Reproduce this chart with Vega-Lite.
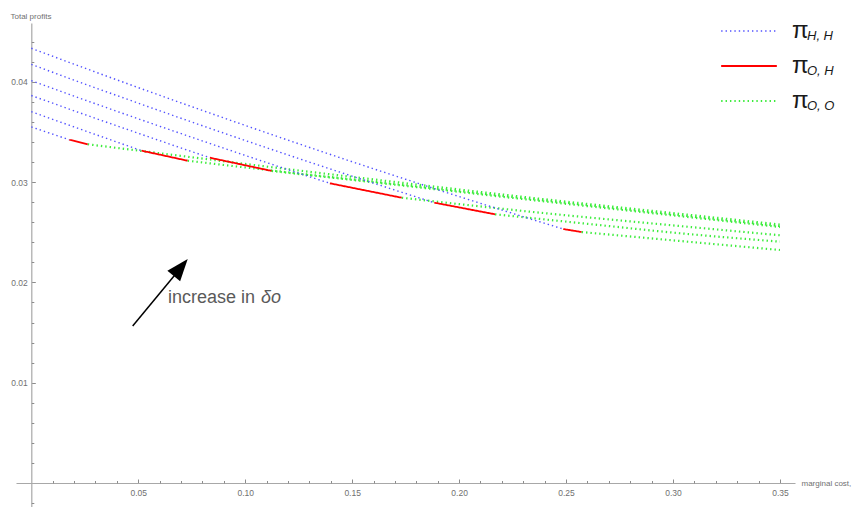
{
  "$schema": "https://vega.github.io/schema/vega-lite/v6.json",
  "autosize": "none",
  "width": 779,
  "height": 484,
  "padding": {"left": 16, "top": 23, "right": 58, "bottom": 0},
  "background": "white",
  "config": {
    "view": {"stroke": null},
    "font": "Liberation Sans",
    "axis": {"labelFont": "Liberation Sans", "titleFont": "Liberation Sans"},
    "legend": {"labelFont": "Liberation Sans"}
  },
  "resolve": {"axis": {"x": "independent", "y": "independent"}},
  "layer": [
    {
      "data": {
        "values": [
          {"curve": 1, "regime": "HH", "sub": "H, H", "x": 0, "y": 0.0355},
          {"curve": 1, "regime": "HH", "sub": "H, H", "x": 0.01, "y": 0.03478},
          {"curve": 1, "regime": "HH", "sub": "H, H", "x": 0.0178, "y": 0.03422},
          {"curve": 1, "regime": "OH", "sub": "O, H", "x": 0.0178, "y": 0.03422},
          {"curve": 1, "regime": "OH", "sub": "O, H", "x": 0.0264, "y": 0.03377},
          {"curve": 1, "regime": "OO", "sub": "O, O", "x": 0.0264, "y": 0.03377},
          {"curve": 1, "regime": "OO", "sub": "O, O", "x": 0.07, "y": 0.03261},
          {"curve": 1, "regime": "OO", "sub": "O, O", "x": 0.1164, "y": 0.03138},
          {"curve": 1, "regime": "OO", "sub": "O, O", "x": 0.175, "y": 0.02989},
          {"curve": 1, "regime": "OO", "sub": "O, O", "x": 0.2378, "y": 0.02834},
          {"curve": 1, "regime": "OO", "sub": "O, O", "x": 0.29, "y": 0.02714},
          {"curve": 1, "regime": "OO", "sub": "O, O", "x": 0.35, "y": 0.02577},

          {"curve": 2, "regime": "HH", "sub": "H, H", "x": 0, "y": 0.03702},
          {"curve": 2, "regime": "HH", "sub": "H, H", "x": 0.025, "y": 0.03512},
          {"curve": 2, "regime": "HH", "sub": "H, H", "x": 0.0516, "y": 0.03313},
          {"curve": 2, "regime": "OH", "sub": "O, H", "x": 0.0516, "y": 0.03313},
          {"curve": 2, "regime": "OH", "sub": "O, H", "x": 0.0731, "y": 0.03213},
          {"curve": 2, "regime": "OO", "sub": "O, O", "x": 0.0731, "y": 0.03213},
          {"curve": 2, "regime": "OO", "sub": "O, O", "x": 0.1164, "y": 0.03106},
          {"curve": 2, "regime": "OO", "sub": "O, O", "x": 0.175, "y": 0.02969},
          {"curve": 2, "regime": "OO", "sub": "O, O", "x": 0.2378, "y": 0.02822},
          {"curve": 2, "regime": "OO", "sub": "O, O", "x": 0.29, "y": 0.02701},
          {"curve": 2, "regime": "OO", "sub": "O, O", "x": 0.35, "y": 0.02562},

          {"curve": 3, "regime": "HH", "sub": "H, H", "x": 0, "y": 0.03863},
          {"curve": 3, "regime": "HH", "sub": "H, H", "x": 0.025, "y": 0.03673},
          {"curve": 3, "regime": "HH", "sub": "H, H", "x": 0.05, "y": 0.03487},
          {"curve": 3, "regime": "HH", "sub": "H, H", "x": 0.075, "y": 0.03304},
          {"curve": 3, "regime": "HH", "sub": "H, H", "x": 0.0835, "y": 0.03243},
          {"curve": 3, "regime": "OH", "sub": "O, H", "x": 0.0835, "y": 0.03243},
          {"curve": 3, "regime": "OH", "sub": "O, H", "x": 0.1124, "y": 0.03111},
          {"curve": 3, "regime": "OO", "sub": "O, O", "x": 0.1124, "y": 0.03111},
          {"curve": 3, "regime": "OO", "sub": "O, O", "x": 0.175, "y": 0.02962},
          {"curve": 3, "regime": "OO", "sub": "O, O", "x": 0.2378, "y": 0.02812},
          {"curve": 3, "regime": "OO", "sub": "O, O", "x": 0.29, "y": 0.02691},
          {"curve": 3, "regime": "OO", "sub": "O, O", "x": 0.35, "y": 0.02552},

          {"curve": 4, "regime": "HH", "sub": "H, H", "x": 0, "y": 0.04011},
          {"curve": 4, "regime": "HH", "sub": "H, H", "x": 0.025, "y": 0.03819},
          {"curve": 4, "regime": "HH", "sub": "H, H", "x": 0.05, "y": 0.03631},
          {"curve": 4, "regime": "HH", "sub": "H, H", "x": 0.075, "y": 0.03447},
          {"curve": 4, "regime": "HH", "sub": "H, H", "x": 0.1, "y": 0.03266},
          {"curve": 4, "regime": "HH", "sub": "H, H", "x": 0.125, "y": 0.03089},
          {"curve": 4, "regime": "HH", "sub": "H, H", "x": 0.1396, "y": 0.02988},
          {"curve": 4, "regime": "OH", "sub": "O, H", "x": 0.1396, "y": 0.02988},
          {"curve": 4, "regime": "OH", "sub": "O, H", "x": 0.1732, "y": 0.02844},
          {"curve": 4, "regime": "OO", "sub": "O, O", "x": 0.1732, "y": 0.02844},
          {"curve": 4, "regime": "OO", "sub": "O, O", "x": 0.2332, "y": 0.02705},
          {"curve": 4, "regime": "OO", "sub": "O, O", "x": 0.3032, "y": 0.02562},
          {"curve": 4, "regime": "OO", "sub": "O, O", "x": 0.35, "y": 0.0247},

          {"curve": 5, "regime": "HH", "sub": "H, H", "x": 0, "y": 0.04173},
          {"curve": 5, "regime": "HH", "sub": "H, H", "x": 0.025, "y": 0.03978},
          {"curve": 5, "regime": "HH", "sub": "H, H", "x": 0.05, "y": 0.03787},
          {"curve": 5, "regime": "HH", "sub": "H, H", "x": 0.075, "y": 0.03599},
          {"curve": 5, "regime": "HH", "sub": "H, H", "x": 0.1, "y": 0.03415},
          {"curve": 5, "regime": "HH", "sub": "H, H", "x": 0.125, "y": 0.03235},
          {"curve": 5, "regime": "HH", "sub": "H, H", "x": 0.15, "y": 0.03059},
          {"curve": 5, "regime": "HH", "sub": "H, H", "x": 0.175, "y": 0.02886},
          {"curve": 5, "regime": "HH", "sub": "H, H", "x": 0.1884, "y": 0.02795},
          {"curve": 5, "regime": "OH", "sub": "O, H", "x": 0.1884, "y": 0.02795},
          {"curve": 5, "regime": "OH", "sub": "O, H", "x": 0.2168, "y": 0.02679},
          {"curve": 5, "regime": "OO", "sub": "O, O", "x": 0.2168, "y": 0.02679},
          {"curve": 5, "regime": "OO", "sub": "O, O", "x": 0.26, "y": 0.02584},
          {"curve": 5, "regime": "OO", "sub": "O, O", "x": 0.3032, "y": 0.0249},
          {"curve": 5, "regime": "OO", "sub": "O, O", "x": 0.35, "y": 0.02406},

          {"curve": 6, "regime": "HH", "sub": "H, H", "x": 0, "y": 0.04334},
          {"curve": 6, "regime": "HH", "sub": "H, H", "x": 0.025, "y": 0.04136},
          {"curve": 6, "regime": "HH", "sub": "H, H", "x": 0.05, "y": 0.03942},
          {"curve": 6, "regime": "HH", "sub": "H, H", "x": 0.075, "y": 0.03752},
          {"curve": 6, "regime": "HH", "sub": "H, H", "x": 0.1, "y": 0.03565},
          {"curve": 6, "regime": "HH", "sub": "H, H", "x": 0.125, "y": 0.03382},
          {"curve": 6, "regime": "HH", "sub": "H, H", "x": 0.15, "y": 0.03203},
          {"curve": 6, "regime": "HH", "sub": "H, H", "x": 0.175, "y": 0.03028},
          {"curve": 6, "regime": "HH", "sub": "H, H", "x": 0.2, "y": 0.02856},
          {"curve": 6, "regime": "HH", "sub": "H, H", "x": 0.225, "y": 0.02688},
          {"curve": 6, "regime": "HH", "sub": "H, H", "x": 0.2487, "y": 0.02532},
          {"curve": 6, "regime": "OH", "sub": "O, H", "x": 0.2487, "y": 0.02532},
          {"curve": 6, "regime": "OH", "sub": "O, H", "x": 0.2573, "y": 0.02502},
          {"curve": 6, "regime": "OO", "sub": "O, O", "x": 0.2573, "y": 0.02502},
          {"curve": 6, "regime": "OO", "sub": "O, O", "x": 0.3032, "y": 0.02413},
          {"curve": 6, "regime": "OO", "sub": "O, O", "x": 0.35, "y": 0.02323}
        ]
      },
      "mark": {"type": "line", "strokeCap": "butt", "interpolate": "monotone"},
      "encoding": {
        "x": {
          "field": "x", "type": "quantitative",
          "scale": {"domain": [-0.00715, 0.35704], "nice": false, "zero": false},
          "axis": {
            "orient": "bottom", "offset": -24,
            "values": [0.05, 0.1, 0.15, 0.2, 0.25, 0.3, 0.35], "format": ".2f",
            "grid": false, "domainColor": "#a8a8a8", "domainWidth": 1.2,
            "tickSize": -4, "tickColor": "#8c8c8c", "tickWidth": 1,
            "labelPadding": 9, "labelFontSize": 8.5, "labelColor": "#707070",
            "labelFlush": false, "labelOverlap": false,
            "title": "marginal cost,", "titleX": 785, "titleY": 0,
            "titleAlign": "left", "titleBaseline": "middle", "titleAngle": 0,
            "titleFontSize": 8, "titleFontWeight": "normal", "titleColor": "#707070"
          }
        },
        "y": {
          "field": "y", "type": "quantitative",
          "scale": {"domain": [-0.00239, 0.04586], "nice": false, "zero": false},
          "axis": {
            "orient": "left", "offset": -15.3,
            "values": [0.01, 0.02, 0.03, 0.04], "format": ".2f",
            "grid": false, "domainColor": "#a8a8a8", "domainWidth": 1.2,
            "tickSize": -4, "tickColor": "#8c8c8c", "tickWidth": 1,
            "labelPadding": 8, "labelFontSize": 8.5, "labelColor": "#707070",
            "labelFlush": false, "labelOverlap": false,
            "title": "Total profits", "titleX": -21.3, "titleY": -7,
            "titleAlign": "left", "titleBaseline": "middle", "titleAngle": 0,
            "titleFontSize": 8, "titleFontWeight": "normal", "titleColor": "#707070"
          }
        },
        "color": {
          "field": "regime", "type": "nominal",
          "scale": {"domain": ["HH", "OH", "OO"], "range": ["#5252ff", "#ff0000", "#3cec3c"]},
          "legend": {
            "orient": "none", "legendX": 704, "legendY": -9.25, "title": null,
            "symbolType": "stroke", "symbolSize": 3100, "clipHeight": 34.5,
            "rowPadding": 0, "padding": 0, "labelOffset": 14,
            "labelFontSize": 24, "labelColor": "#1a1a1a", "labelExpr": "'π'", "labelLimit": 0
          }
        },
        "strokeDash": {
          "field": "regime", "type": "nominal",
          "scale": {"domain": ["HH", "OH", "OO"], "range": [[1.4, 3], [1, 0], [1.4, 3]]},
          "legend": {
            "orient": "none", "legendX": 704, "legendY": -9.25, "title": null,
            "symbolType": "stroke", "symbolSize": 3100, "clipHeight": 34.5,
            "rowPadding": 0, "padding": 0, "labelOffset": 14,
            "labelFontSize": 24, "labelColor": "#1a1a1a", "labelExpr": "'π'", "labelLimit": 0
          }
        },
        "strokeWidth": {
          "field": "regime", "type": "nominal",
          "scale": {"domain": ["HH", "OH", "OO"], "range": [1.4, 2.2, 1.4]},
          "legend": {
            "orient": "none", "legendX": 704, "legendY": -9.25, "title": null,
            "symbolType": "stroke", "symbolSize": 3100, "clipHeight": 34.5,
            "rowPadding": 0, "padding": 0, "labelOffset": 14,
            "labelFontSize": 24, "labelColor": "#1a1a1a", "labelExpr": "'π'", "labelLimit": 0
          }
        },
        "opacity": {
          "field": "sub", "type": "ordinal",
          "scale": {"domain": ["H, H", "O, H", "O, O"], "range": [1, 1, 1]},
          "legend": {
            "orient": "none", "legendX": 778, "legendY": -4, "title": null,
            "symbolSize": 0, "symbolOpacity": 0, "symbolStrokeWidth": 0,
            "clipHeight": 34.5, "rowPadding": 0, "padding": 0, "labelOffset": 0,
            "labelFontSize": 13, "labelFontStyle": "italic", "labelColor": "#1a1a1a", "labelLimit": 0
          }
        },
        "detail": {"field": "curve", "type": "nominal"}
      }
    },
    {
      "data": {"values": [{}]},
      "mark": {"type": "rule", "color": "black", "strokeWidth": 1.5},
      "encoding": {
        "x": {
          "datum": 0.0474, "type": "quantitative",
          "scale": {"domain": [-0.00715, 0.35704], "nice": false, "zero": false},
          "axis": {
            "orient": "bottom", "offset": -24,
            "values": [0.01, 0.02, 0.03, 0.04, 0.06, 0.07, 0.08, 0.09, 0.11, 0.12, 0.13, 0.14, 0.16, 0.17, 0.18, 0.19, 0.21, 0.22, 0.23, 0.24, 0.26, 0.27, 0.28, 0.29, 0.31, 0.32, 0.33, 0.34],
            "labels": false, "domain": false, "grid": false, "title": null,
            "tickSize": -2.5, "tickColor": "#8c8c8c", "tickWidth": 1
          }
        },
        "y": {
          "datum": 0.01565, "type": "quantitative",
          "scale": {"domain": [-0.00239, 0.04586], "nice": false, "zero": false},
          "axis": {
            "orient": "left", "offset": -15.3,
            "values": [-0.002, 0.002, 0.004, 0.006, 0.008, 0.012, 0.014, 0.016, 0.018, 0.022, 0.024, 0.026, 0.028, 0.032, 0.034, 0.036, 0.038, 0.042, 0.044],
            "labels": false, "domain": false, "grid": false, "title": null,
            "tickSize": -2.5, "tickColor": "#8c8c8c", "tickWidth": 1
          }
        },
        "x2": {"datum": 0.0677},
        "y2": {"datum": 0.02089}
      }
    },
    {
      "data": {"values": [{}]},
      "mark": {"type": "point", "shape": "M0,-1L0.6,0.6L-0.6,0.6Z", "size": 756, "angle": 39.4, "filled": true, "color": "black", "opacity": 1, "strokeWidth": 0},
      "encoding": {
        "x": {"datum": 0.06905, "type": "quantitative", "scale": {"domain": [-0.00715, 0.35704], "nice": false, "zero": false}, "axis": null},
        "y": {"datum": 0.02128, "type": "quantitative", "scale": {"domain": [-0.00239, 0.04586], "nice": false, "zero": false}, "axis": null}
      }
    },
    {
      "data": {"values": [{}]},
      "mark": {"type": "text", "text": "increase in", "align": "left", "baseline": "middle", "fontSize": 18, "color": "#5a5a5a", "font": "Liberation Sans"},
      "encoding": {
        "x": {"datum": 0.0639, "type": "quantitative", "scale": {"domain": [-0.00715, 0.35704], "nice": false, "zero": false}, "axis": null},
        "y": {"datum": 0.01844, "type": "quantitative", "scale": {"domain": [-0.00239, 0.04586], "nice": false, "zero": false}, "axis": null}
      }
    },
    {
      "data": {"values": [{}]},
      "mark": {"type": "text", "text": "δo", "align": "left", "baseline": "middle", "fontSize": 18, "fontStyle": "italic", "color": "#5a5a5a", "font": "Liberation Sans"},
      "encoding": {
        "x": {"datum": 0.1074, "type": "quantitative", "scale": {"domain": [-0.00715, 0.35704], "nice": false, "zero": false}, "axis": null},
        "y": {"datum": 0.01844, "type": "quantitative", "scale": {"domain": [-0.00239, 0.04586], "nice": false, "zero": false}, "axis": null}
      }
    }
  ]
}
